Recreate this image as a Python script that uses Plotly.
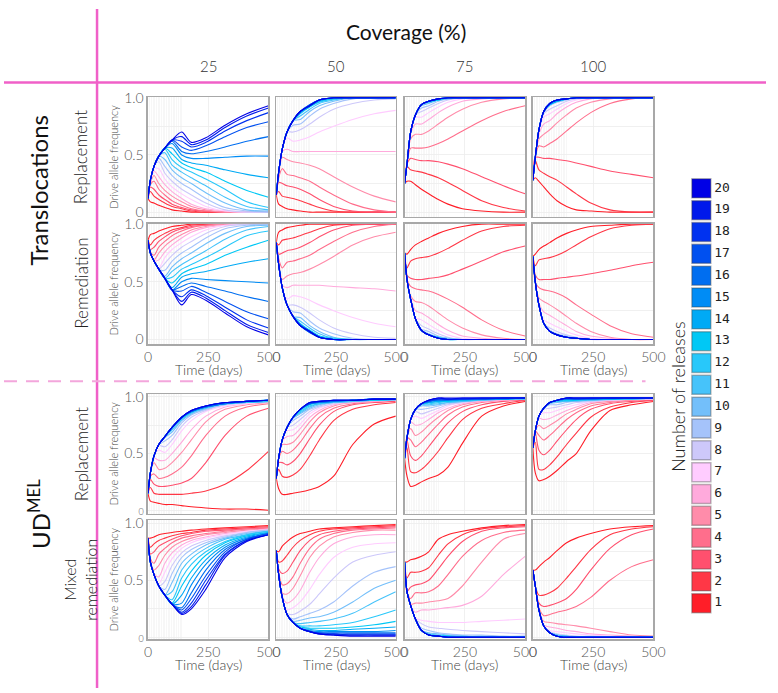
import plotly.graph_objects as go

# ---------------- data ----------------
DAYS = [0, 10, 25, 45, 70, 100, 140, 180, 240, 320, 410, 500]
RELEASE_DAYS = [0, 7, 14, 21, 28, 35, 42, 49, 56, 63, 70, 77, 84, 91, 98, 105, 112, 119, 126, 133, 140]
RELEASES = [str(n) for n in range(1, 21)]
COVERAGE = ["25", "50", "75", "100"]
X_TICKS = [0, 250, 500]

COLORS = [
    "#ff1e28", "#ff3746", "#ff506e", "#ff6e8c", "#ff8caa", "#ffaadc", "#ffccff",
    "#cdc8fa", "#a5c3fa", "#73bffa", "#46c3fa", "#28c8fa", "#00c8f5", "#00aaf5",
    "#008cf5", "#006ef0", "#0050f0", "#0032f0", "#0019eb", "#0000e6",
]

# values in % of drive allele frequency, one row per number of releases (1..20)
TR_REP_25 = [
    [12, 9, 8, 6, 4, 2, 1, 0, 0, 0, 0, 0],
    [12, 18, 14, 11, 8, 5, 3, 1, 0, 0, 0, 0],
    [12, 22, 20, 15, 11, 7, 4, 2, 1, 0, 0, 0],
    [12, 24, 27, 20, 15, 10, 6, 3, 1, 0, 0, 0],
    [12, 25, 32, 25, 19, 14, 9, 5, 2, 0, 0, 0],
    [12, 26, 36, 31, 24, 18, 12, 7, 3, 1, 0, 0],
    [12, 27, 38, 38, 29, 22, 16, 11, 5, 1, 0, 0],
    [12, 28, 40, 44, 34, 27, 20, 15, 8, 2, 0, 0],
    [12, 28, 40, 47, 40, 32, 25, 20, 12, 4, 1, 0],
    [12, 28, 40, 49, 46, 37, 30, 25, 17, 8, 2, 1],
    [12, 28, 40, 49, 52, 41, 35, 30, 23, 13, 5, 2],
    [12, 28, 40, 49, 55, 46, 39, 35, 29, 20, 9, 4],
    [12, 28, 40, 49, 56, 51, 43, 39, 35, 27, 19, 13],
    [12, 28, 40, 49, 56, 56, 46, 43, 41, 37, 33, 30],
    [12, 28, 40, 49, 56, 60, 50, 47, 47, 48, 49, 49],
    [12, 28, 40, 49, 56, 62, 53, 51, 53, 57, 62, 66],
    [12, 28, 40, 49, 56, 63, 57, 54, 58, 66, 74, 79],
    [12, 28, 40, 49, 56, 63, 62, 57, 61, 71, 80, 87],
    [12, 28, 40, 49, 56, 63, 66, 59, 63, 74, 84, 91],
    [12, 28, 40, 49, 56, 63, 70, 61, 65, 76, 86, 93],
]
TR_REP_50 = [
    [15, 7, 5, 3, 2, 1, 0, 0, 0, 0, 0, 0],
    [15, 18, 14, 13, 12, 10, 7, 4, 1, 0, 0, 0],
    [15, 26, 25, 23, 22, 20, 16, 11, 5, 1, 0, 0],
    [15, 30, 38, 33, 32, 30, 27, 22, 15, 7, 2, 0],
    [15, 32, 48, 46, 44, 43, 41, 38, 31, 22, 14, 9],
    [15, 33, 53, 55, 53, 53, 53, 53, 53, 53, 53, 53],
    [15, 34, 55, 65, 62, 63, 66, 70, 75, 81, 86, 89],
    [15, 35, 55, 70, 70, 72, 77, 83, 90, 95, 98, 99],
    [15, 35, 55, 70, 76, 77, 84, 90, 95, 99, 100, 100],
    [15, 35, 55, 70, 80, 81, 88, 93, 97, 100, 100, 100],
    [15, 35, 55, 70, 80, 84, 90, 95, 98, 100, 100, 100],
    [15, 35, 55, 70, 80, 86, 92, 96, 99, 100, 100, 100],
    [15, 35, 55, 70, 80, 87, 92, 97, 99, 100, 100, 100],
    [15, 35, 55, 70, 80, 87, 93, 97, 100, 100, 100, 100],
    [15, 35, 55, 70, 80, 87, 93, 98, 100, 100, 100, 100],
    [15, 35, 55, 70, 80, 88, 94, 98, 100, 100, 100, 100],
    [15, 35, 55, 70, 80, 88, 94, 98, 100, 100, 100, 100],
    [15, 35, 55, 70, 80, 88, 93, 98, 100, 100, 100, 100],
    [15, 35, 55, 70, 80, 88, 93, 98, 100, 100, 100, 100],
    [15, 35, 55, 70, 80, 88, 93, 98, 100, 100, 100, 100],
]
TR_REP_75 = [
    [25, 27, 27, 24, 20, 16, 11, 7, 3, 1, 0, 0],
    [25, 40, 37, 36, 35, 33, 30, 26, 19, 10, 4, 1],
    [25, 42, 47, 46, 45, 45, 44, 42, 38, 31, 23, 16],
    [25, 42, 56, 56, 56, 57, 60, 64, 71, 80, 88, 93],
    [25, 42, 64, 68, 68, 71, 77, 83, 90, 96, 99, 100],
    [25, 42, 68, 77, 77, 81, 87, 92, 97, 99, 100, 100],
    [25, 42, 70, 83, 83, 87, 92, 96, 99, 100, 100, 100],
    [25, 42, 70, 85, 88, 91, 95, 98, 100, 100, 100, 100],
    [25, 42, 70, 85, 91, 93, 97, 99, 100, 100, 100, 100],
    [25, 42, 70, 85, 93, 95, 98, 99, 100, 100, 100, 100],
    [25, 42, 70, 85, 94, 96, 98, 100, 100, 100, 100, 100],
    [25, 42, 70, 85, 94, 96, 98, 100, 100, 100, 100, 100],
    [25, 42, 70, 85, 94, 97, 98, 100, 100, 100, 100, 100],
    [25, 42, 70, 85, 94, 97, 99, 100, 100, 100, 100, 100],
    [25, 42, 70, 85, 94, 97, 99, 100, 100, 100, 100, 100],
    [25, 42, 70, 85, 94, 97, 99, 100, 100, 100, 100, 100],
    [25, 42, 70, 85, 94, 97, 99, 100, 100, 100, 100, 100],
    [25, 42, 70, 85, 94, 97, 99, 100, 100, 100, 100, 100],
    [25, 42, 70, 85, 94, 97, 99, 100, 100, 100, 100, 100],
    [25, 42, 70, 85, 94, 97, 99, 100, 100, 100, 100, 100],
]
TR_REP_100 = [
    [28, 30, 27, 22, 16, 10, 5, 2, 1, 0, 0, 0],
    [28, 45, 37, 34, 31, 28, 22, 16, 8, 2, 0, 0],
    [28, 48, 48, 47, 47, 46, 45, 43, 40, 36, 33, 30],
    [28, 48, 58, 57, 60, 64, 71, 78, 87, 95, 99, 100],
    [28, 48, 64, 68, 72, 78, 85, 91, 96, 99, 100, 100],
    [28, 48, 68, 77, 80, 86, 92, 96, 99, 100, 100, 100],
    [28, 48, 70, 83, 86, 90, 95, 98, 100, 100, 100, 100],
    [28, 48, 72, 86, 90, 93, 97, 99, 100, 100, 100, 100],
    [28, 48, 72, 87, 93, 96, 98, 100, 100, 100, 100, 100],
    [28, 48, 72, 88, 94, 97, 99, 100, 100, 100, 100, 100],
    [28, 48, 72, 88, 94, 97, 99, 100, 100, 100, 100, 100],
    [28, 48, 72, 88, 94, 97, 99, 100, 100, 100, 100, 100],
    [28, 48, 72, 88, 94, 97, 99, 100, 100, 100, 100, 100],
    [28, 48, 72, 88, 94, 97, 99, 100, 100, 100, 100, 100],
    [28, 48, 72, 88, 95, 98, 99, 100, 100, 100, 100, 100],
    [28, 48, 72, 88, 95, 98, 99, 100, 100, 100, 100, 100],
    [28, 48, 72, 88, 95, 98, 99, 100, 100, 100, 100, 100],
    [28, 48, 72, 88, 95, 98, 99, 100, 100, 100, 100, 100],
    [28, 48, 72, 88, 95, 98, 99, 100, 100, 100, 100, 100],
    [28, 48, 72, 88, 95, 98, 99, 100, 100, 100, 100, 100],
]
TR_REM_25 = [
    [86, 91, 92, 94, 96, 98, 99, 100, 100, 100, 100, 100],
    [86, 82, 86, 89, 92, 95, 97, 99, 100, 100, 100, 100],
    [86, 78, 80, 85, 89, 93, 96, 98, 99, 100, 100, 100],
    [86, 76, 73, 80, 85, 90, 94, 97, 99, 100, 100, 100],
    [86, 75, 69, 75, 81, 86, 91, 95, 98, 100, 100, 100],
    [86, 75, 68, 69, 76, 82, 88, 93, 97, 99, 100, 100],
    [86, 75, 68, 62, 71, 78, 84, 89, 95, 99, 100, 100],
    [86, 75, 68, 61, 66, 73, 80, 85, 92, 98, 100, 100],
    [86, 75, 68, 61, 60, 68, 75, 80, 88, 96, 99, 100],
    [86, 75, 68, 61, 55, 63, 70, 75, 83, 92, 98, 99],
    [86, 75, 68, 61, 53, 59, 65, 70, 77, 87, 95, 98],
    [86, 75, 68, 61, 53, 54, 61, 65, 71, 80, 90, 94],
    [86, 75, 68, 61, 53, 49, 57, 61, 65, 73, 80, 86],
    [86, 75, 68, 61, 53, 45, 54, 57, 59, 63, 67, 70],
    [86, 75, 68, 61, 53, 43, 50, 53, 52, 51, 50, 49],
    [86, 75, 68, 61, 53, 43, 46, 49, 46, 42, 37, 33],
    [86, 75, 68, 61, 53, 43, 42, 46, 41, 33, 24, 18],
    [86, 75, 68, 61, 53, 43, 37, 43, 38, 28, 17, 10],
    [86, 75, 68, 61, 53, 43, 33, 41, 36, 25, 13, 6],
    [86, 75, 68, 61, 53, 43, 30, 39, 34, 23, 11, 4],
]
TR_REM_50 = [
    [84, 93, 95, 97, 98, 99, 100, 100, 100, 100, 100, 100],
    [84, 82, 86, 87, 88, 90, 93, 96, 99, 100, 100, 100],
    [84, 74, 75, 77, 78, 80, 84, 89, 95, 99, 100, 100],
    [84, 70, 62, 67, 68, 70, 73, 78, 85, 93, 98, 100],
    [84, 68, 52, 55, 57, 58, 61, 65, 72, 82, 89, 93],
    [84, 67, 47, 45, 47, 47, 47, 47, 46, 45, 44, 42],
    [84, 66, 45, 35, 38, 37, 34, 30, 25, 19, 14, 11],
    [84, 65, 45, 30, 30, 28, 23, 17, 10, 5, 2, 1],
    [84, 65, 45, 30, 24, 23, 16, 10, 5, 1, 0, 0],
    [84, 65, 45, 30, 20, 19, 12, 7, 2, 0, 0, 0],
    [84, 65, 45, 30, 20, 16, 10, 5, 1, 0, 0, 0],
    [84, 65, 45, 30, 20, 14, 8, 3, 1, 0, 0, 0],
    [84, 65, 45, 30, 20, 13, 8, 3, 0, 0, 0, 0],
    [84, 65, 45, 30, 20, 13, 7, 2, 0, 0, 0, 0],
    [84, 65, 45, 30, 20, 13, 7, 2, 0, 0, 0, 0],
    [84, 65, 45, 30, 20, 12, 6, 2, 0, 0, 0, 0],
    [84, 65, 45, 30, 20, 12, 6, 2, 0, 0, 0, 0],
    [84, 65, 45, 30, 20, 12, 7, 2, 0, 0, 0, 0],
    [84, 65, 45, 30, 20, 12, 7, 2, 0, 0, 0, 0],
    [84, 65, 45, 30, 20, 12, 7, 2, 0, 0, 0, 0],
]
TR_REM_75 = [
    [75, 74, 78, 82, 85, 88, 92, 95, 98, 100, 100, 100],
    [75, 62, 68, 70, 71, 72, 75, 79, 86, 94, 98, 99],
    [75, 56, 53, 52, 52, 53, 54, 56, 61, 68, 76, 81],
    [75, 52, 46, 44, 43, 42, 39, 35, 28, 17, 8, 3],
    [75, 52, 38, 33, 32, 29, 23, 17, 10, 4, 1, 0],
    [75, 52, 36, 25, 23, 19, 13, 8, 3, 1, 0, 0],
    [75, 52, 35, 19, 17, 13, 8, 4, 1, 0, 0, 0],
    [75, 52, 35, 18, 12, 9, 5, 2, 0, 0, 0, 0],
    [75, 52, 35, 18, 9, 7, 3, 1, 0, 0, 0, 0],
    [75, 52, 35, 18, 8, 5, 2, 1, 0, 0, 0, 0],
    [75, 52, 35, 18, 8, 4, 2, 0, 0, 0, 0, 0],
    [75, 52, 35, 18, 8, 4, 2, 0, 0, 0, 0, 0],
    [75, 52, 35, 18, 8, 4, 1, 0, 0, 0, 0, 0],
    [75, 52, 35, 18, 8, 4, 1, 0, 0, 0, 0, 0],
    [75, 52, 35, 18, 8, 4, 1, 0, 0, 0, 0, 0],
    [75, 52, 35, 18, 8, 4, 1, 0, 0, 0, 0, 0],
    [75, 52, 35, 18, 8, 4, 1, 0, 0, 0, 0, 0],
    [75, 52, 35, 18, 8, 4, 1, 0, 0, 0, 0, 0],
    [75, 52, 35, 18, 8, 4, 1, 0, 0, 0, 0, 0],
    [75, 52, 35, 18, 8, 4, 1, 0, 0, 0, 0, 0],
]
TR_REM_100 = [
    [72, 74, 78, 81, 84, 88, 92, 95, 98, 99, 100, 100],
    [72, 64, 69, 70, 71, 73, 77, 82, 89, 96, 99, 100],
    [72, 56, 52, 52, 52, 53, 54, 55, 57, 60, 64, 67],
    [72, 50, 45, 43, 42, 40, 36, 30, 22, 12, 5, 2],
    [72, 50, 36, 33, 30, 26, 20, 14, 7, 2, 0, 0],
    [72, 50, 32, 24, 21, 17, 12, 7, 3, 1, 0, 0],
    [72, 50, 30, 17, 14, 11, 7, 4, 1, 0, 0, 0],
    [72, 50, 30, 14, 10, 7, 4, 2, 0, 0, 0, 0],
    [72, 50, 30, 14, 8, 5, 3, 1, 0, 0, 0, 0],
    [72, 50, 30, 14, 7, 4, 2, 1, 0, 0, 0, 0],
    [72, 50, 30, 14, 7, 4, 2, 1, 0, 0, 0, 0],
    [72, 50, 30, 14, 7, 4, 2, 1, 0, 0, 0, 0],
    [72, 50, 30, 14, 7, 4, 2, 1, 0, 0, 0, 0],
    [72, 50, 30, 14, 7, 4, 2, 1, 0, 0, 0, 0],
    [72, 50, 30, 14, 7, 4, 2, 1, 0, 0, 0, 0],
    [72, 50, 30, 14, 7, 4, 2, 1, 0, 0, 0, 0],
    [72, 50, 30, 14, 7, 4, 2, 1, 0, 0, 0, 0],
    [72, 50, 30, 14, 7, 4, 2, 1, 0, 0, 0, 0],
    [72, 50, 30, 14, 7, 4, 2, 1, 0, 0, 0, 0],
    [72, 50, 30, 14, 7, 4, 2, 1, 0, 0, 0, 0],
]
UD_REP_25 = [
    [15, 8, 7, 6, 5, 5, 4, 3, 2, 1, 1, 0],
    [15, 20, 15, 14, 14, 14, 14, 15, 17, 23, 35, 52],
    [15, 27, 23, 21, 21, 22, 24, 28, 42, 66, 83, 90],
    [15, 30, 32, 28, 29, 32, 38, 48, 66, 83, 91, 94],
    [15, 33, 42, 36, 37, 42, 51, 62, 78, 89, 93, 95],
    [15, 33, 46, 44, 44, 50, 60, 71, 83, 91, 94, 95],
    [15, 33, 48, 53, 51, 58, 70, 79, 87, 92, 94, 96],
    [15, 33, 48, 57, 56, 62, 74, 82, 88, 93, 95, 96],
    [15, 33, 48, 58, 61, 66, 77, 84, 89, 93, 95, 96],
    [15, 33, 48, 58, 64, 69, 79, 85, 90, 94, 95, 96],
    [15, 33, 48, 58, 65, 71, 80, 86, 90, 94, 95, 96],
    [15, 33, 48, 58, 65, 72, 81, 86, 91, 94, 95, 96],
    [15, 33, 48, 58, 65, 73, 81, 87, 91, 94, 96, 97],
    [15, 33, 48, 58, 65, 73, 82, 87, 91, 94, 96, 97],
    [15, 33, 48, 58, 65, 73, 82, 87, 91, 94, 96, 97],
    [15, 33, 48, 58, 65, 73, 82, 87, 91, 94, 96, 97],
    [15, 33, 48, 58, 65, 73, 82, 87, 92, 95, 96, 97],
    [15, 33, 48, 58, 65, 73, 82, 88, 92, 95, 96, 97],
    [15, 33, 48, 58, 65, 73, 82, 88, 92, 95, 96, 97],
    [15, 33, 48, 58, 65, 73, 82, 88, 92, 95, 96, 97],
]
UD_REP_50 = [
    [28, 19, 14, 14, 15, 16, 18, 21, 30, 58, 76, 83],
    [28, 36, 30, 29, 31, 36, 48, 62, 79, 89, 93, 95],
    [28, 42, 42, 40, 43, 50, 63, 75, 87, 93, 95, 96],
    [28, 45, 52, 50, 53, 60, 72, 82, 90, 94, 96, 97],
    [28, 46, 58, 58, 60, 67, 78, 86, 92, 95, 96, 97],
    [28, 46, 61, 65, 66, 72, 82, 88, 93, 95, 96, 97],
    [28, 46, 62, 70, 71, 76, 85, 90, 94, 96, 97, 97],
    [28, 46, 62, 73, 75, 80, 87, 91, 94, 96, 97, 97],
    [28, 46, 62, 73, 79, 83, 89, 92, 95, 96, 97, 97],
    [28, 46, 62, 73, 81, 85, 90, 93, 95, 96, 97, 97],
    [28, 46, 62, 73, 82, 86, 91, 94, 95, 96, 97, 98],
    [28, 46, 62, 73, 82, 87, 92, 94, 96, 97, 97, 98],
    [28, 46, 62, 73, 82, 88, 93, 95, 96, 97, 97, 98],
    [28, 46, 62, 73, 82, 89, 94, 95, 96, 97, 98, 98],
    [28, 46, 62, 73, 82, 89, 94, 95, 96, 97, 98, 98],
    [28, 46, 62, 73, 82, 89, 94, 95, 96, 97, 98, 98],
    [28, 46, 62, 73, 82, 89, 94, 96, 97, 97, 98, 98],
    [28, 46, 62, 73, 82, 89, 95, 96, 97, 97, 98, 98],
    [28, 46, 62, 73, 82, 89, 95, 96, 97, 97, 98, 98],
    [28, 46, 62, 73, 82, 89, 95, 96, 97, 97, 98, 98],
]
UD_REP_75 = [
    [46, 30, 21, 22, 25, 28, 31, 38, 59, 83, 92, 96],
    [46, 55, 34, 33, 36, 42, 52, 64, 80, 90, 94, 97],
    [46, 62, 48, 44, 48, 56, 67, 77, 87, 93, 96, 97],
    [46, 64, 62, 56, 60, 67, 76, 84, 91, 95, 97, 98],
    [46, 64, 72, 66, 69, 75, 82, 88, 93, 96, 97, 98],
    [46, 64, 78, 75, 76, 80, 86, 90, 94, 96, 97, 98],
    [46, 64, 80, 83, 81, 84, 88, 92, 95, 97, 98, 98],
    [46, 64, 80, 87, 85, 87, 90, 93, 95, 97, 98, 98],
    [46, 64, 80, 89, 89, 90, 92, 94, 96, 97, 98, 98],
    [46, 64, 80, 89, 92, 92, 93, 95, 96, 97, 98, 98],
    [46, 64, 80, 89, 93, 93, 94, 95, 96, 97, 98, 98],
    [46, 64, 80, 89, 94, 94, 95, 96, 97, 98, 98, 99],
    [46, 64, 80, 89, 94, 95, 96, 96, 97, 98, 98, 99],
    [46, 64, 80, 89, 94, 95, 96, 97, 97, 98, 98, 99],
    [46, 64, 80, 89, 94, 96, 97, 97, 98, 98, 98, 99],
    [46, 64, 80, 89, 94, 96, 97, 97, 98, 98, 99, 99],
    [46, 64, 80, 89, 94, 96, 98, 98, 98, 98, 99, 99],
    [46, 64, 80, 89, 94, 97, 98, 98, 98, 99, 99, 99],
    [46, 64, 80, 89, 94, 97, 99, 98, 99, 99, 99, 99],
    [46, 64, 80, 89, 94, 97, 99, 99, 99, 99, 99, 99],
]
UD_REP_100 = [
    [55, 33, 26, 27, 30, 35, 43, 50, 70, 88, 93, 96],
    [55, 60, 36, 36, 40, 47, 58, 68, 82, 91, 95, 97],
    [55, 68, 53, 49, 53, 61, 71, 80, 89, 94, 96, 97],
    [55, 70, 66, 62, 66, 72, 80, 86, 92, 95, 97, 98],
    [55, 70, 75, 72, 75, 79, 85, 89, 94, 96, 97, 98],
    [55, 70, 81, 80, 81, 84, 88, 91, 95, 97, 98, 98],
    [55, 70, 83, 86, 86, 88, 91, 93, 96, 97, 98, 98],
    [55, 70, 83, 89, 90, 91, 93, 95, 96, 97, 98, 98],
    [55, 70, 83, 90, 93, 93, 95, 96, 97, 98, 98, 99],
    [55, 70, 83, 90, 94, 95, 96, 96, 97, 98, 98, 99],
    [55, 70, 83, 90, 95, 96, 96, 97, 97, 98, 98, 99],
    [55, 70, 83, 90, 95, 96, 97, 97, 98, 98, 98, 99],
    [55, 70, 83, 90, 95, 97, 97, 97, 98, 98, 99, 99],
    [55, 70, 83, 90, 95, 97, 98, 98, 98, 98, 99, 99],
    [55, 70, 83, 90, 95, 97, 98, 98, 98, 99, 99, 99],
    [55, 70, 83, 90, 95, 97, 98, 98, 98, 99, 99, 99],
    [55, 70, 83, 90, 95, 97, 99, 98, 99, 99, 99, 99],
    [55, 70, 83, 90, 95, 97, 99, 99, 99, 99, 99, 99],
    [55, 70, 83, 90, 95, 97, 99, 99, 99, 99, 99, 99],
    [55, 70, 83, 90, 95, 97, 99, 99, 99, 99, 99, 99],
]
UD_MIX_25 = [
    [87, 87, 88, 90, 91, 92, 93, 94, 95, 96, 97, 98],
    [87, 79, 82, 85, 87, 89, 91, 92, 94, 95, 96, 97],
    [87, 73, 75, 80, 83, 86, 89, 91, 93, 94, 95, 96],
    [87, 69, 65, 73, 78, 83, 87, 89, 91, 93, 95, 96],
    [87, 67, 59, 63, 72, 79, 84, 87, 90, 92, 94, 95],
    [87, 66, 56, 53, 65, 74, 81, 85, 88, 91, 93, 95],
    [87, 66, 55, 47, 57, 69, 78, 83, 87, 90, 93, 94],
    [87, 66, 55, 45, 49, 63, 74, 80, 85, 89, 92, 94],
    [87, 66, 55, 45, 42, 56, 70, 77, 83, 88, 92, 94],
    [87, 66, 55, 45, 37, 48, 65, 73, 81, 87, 91, 93],
    [87, 66, 55, 45, 37, 40, 59, 69, 78, 86, 90, 93],
    [87, 66, 55, 45, 37, 33, 52, 64, 75, 84, 90, 93],
    [87, 66, 55, 45, 37, 30, 45, 58, 72, 83, 89, 92],
    [87, 66, 55, 45, 37, 29, 37, 52, 68, 81, 88, 92],
    [87, 66, 55, 45, 37, 29, 30, 46, 64, 79, 87, 91],
    [87, 66, 55, 45, 37, 29, 26, 39, 59, 77, 86, 91],
    [87, 66, 55, 45, 37, 29, 24, 34, 54, 75, 86, 91],
    [87, 66, 55, 45, 37, 29, 22, 30, 50, 73, 85, 90],
    [87, 66, 55, 45, 37, 29, 21, 27, 46, 72, 85, 90],
    [87, 66, 55, 45, 37, 29, 20, 25, 42, 70, 84, 90],
]
UD_MIX_50 = [
    [76, 75, 80, 84, 88, 91, 93, 95, 96, 97, 98, 99],
    [76, 66, 67, 72, 79, 85, 90, 93, 95, 96, 97, 98],
    [76, 60, 56, 58, 66, 76, 85, 90, 93, 95, 96, 97],
    [76, 57, 46, 47, 53, 65, 78, 86, 91, 94, 95, 96],
    [76, 56, 39, 38, 43, 54, 70, 80, 88, 92, 94, 94],
    [76, 55, 36, 30, 33, 41, 57, 70, 82, 88, 90, 90],
    [76, 55, 35, 24, 26, 31, 42, 55, 70, 79, 82, 83],
    [76, 55, 35, 21, 20, 23, 29, 38, 52, 66, 72, 75],
    [76, 55, 35, 20, 16, 18, 21, 24, 31, 45, 57, 62],
    [76, 55, 35, 20, 14, 15, 17, 18, 22, 31, 43, 50],
    [76, 55, 35, 20, 13, 12, 13, 14, 16, 21, 31, 40],
    [76, 55, 35, 20, 13, 10, 10, 10, 11, 13, 18, 24],
    [76, 55, 35, 20, 13, 9, 8, 8, 8, 9, 11, 14],
    [76, 55, 35, 20, 13, 8, 7, 6, 6, 7, 8, 9],
    [76, 55, 35, 20, 13, 8, 6, 5, 5, 5, 5, 6],
    [76, 55, 35, 20, 13, 8, 5, 4, 4, 4, 4, 4],
    [76, 55, 35, 20, 13, 8, 5, 4, 3, 3, 3, 3],
    [76, 55, 35, 20, 13, 8, 5, 3, 3, 2, 2, 2],
    [76, 55, 35, 20, 13, 8, 5, 3, 2, 2, 2, 2],
    [76, 55, 35, 20, 13, 8, 5, 3, 2, 1, 1, 1],
]
UD_MIX_75 = [
    [66, 66, 68, 69, 71, 75, 86, 90, 93, 96, 98, 99],
    [66, 52, 57, 57, 58, 61, 72, 82, 90, 95, 97, 98],
    [66, 40, 44, 46, 47, 50, 60, 71, 84, 93, 96, 97],
    [66, 40, 34, 39, 39, 40, 45, 55, 71, 85, 92, 94],
    [66, 40, 29, 30, 30, 31, 32, 34, 45, 66, 86, 91],
    [66, 40, 28, 22, 24, 24, 25, 26, 28, 36, 55, 71],
    [66, 40, 28, 17, 15, 14, 13, 13, 13, 14, 15, 16],
    [66, 40, 28, 16, 12, 9, 8, 7, 6, 5, 4, 3],
    [66, 40, 28, 16, 8, 6, 4, 3, 2, 2, 1, 1],
    [66, 40, 28, 16, 6, 4, 3, 2, 1, 1, 0, 0],
    [66, 40, 28, 16, 6, 3, 2, 1, 1, 0, 0, 0],
    [66, 40, 28, 16, 6, 2, 1, 1, 0, 0, 0, 0],
    [66, 40, 28, 16, 6, 2, 1, 1, 0, 0, 0, 0],
    [66, 40, 28, 16, 6, 2, 1, 0, 0, 0, 0, 0],
    [66, 40, 28, 16, 6, 2, 1, 0, 0, 0, 0, 0],
    [66, 40, 28, 16, 6, 2, 1, 0, 0, 0, 0, 0],
    [66, 40, 28, 16, 6, 2, 1, 0, 0, 0, 0, 0],
    [66, 40, 28, 16, 6, 2, 1, 0, 0, 0, 0, 0],
    [66, 40, 28, 16, 6, 2, 1, 0, 0, 0, 0, 0],
    [66, 40, 28, 16, 6, 2, 1, 0, 0, 0, 0, 0],
]
UD_MIX_100 = [
    [59, 59, 62, 66, 70, 76, 83, 87, 91, 95, 97, 98],
    [59, 45, 37, 37, 39, 43, 52, 62, 77, 90, 95, 97],
    [59, 45, 30, 27, 28, 30, 34, 42, 59, 78, 90, 95],
    [59, 45, 26, 19, 20, 22, 24, 27, 35, 50, 62, 68],
    [59, 45, 24, 14, 13, 12, 11, 10, 8, 5, 2, 1],
    [59, 45, 24, 11, 9, 8, 6, 5, 3, 2, 1, 0],
    [59, 45, 24, 10, 6, 5, 4, 3, 2, 1, 0, 0],
    [59, 45, 24, 10, 5, 3, 2, 1, 1, 0, 0, 0],
    [59, 45, 24, 10, 4, 2, 1, 0, 0, 0, 0, 0],
    [59, 45, 24, 10, 4, 2, 1, 0, 0, 0, 0, 0],
    [59, 45, 24, 10, 4, 2, 1, 0, 0, 0, 0, 0],
    [59, 45, 24, 10, 4, 1, 0, 0, 0, 0, 0, 0],
    [59, 45, 24, 10, 4, 1, 0, 0, 0, 0, 0, 0],
    [59, 45, 24, 10, 4, 1, 0, 0, 0, 0, 0, 0],
    [59, 45, 24, 10, 4, 1, 0, 0, 0, 0, 0, 0],
    [59, 45, 24, 10, 4, 1, 0, 0, 0, 0, 0, 0],
    [59, 45, 24, 10, 4, 1, 0, 0, 0, 0, 0, 0],
    [59, 45, 24, 10, 4, 1, 0, 0, 0, 0, 0, 0],
    [59, 45, 24, 10, 4, 1, 0, 0, 0, 0, 0, 0],
    [59, 45, 24, 10, 4, 1, 0, 0, 0, 0, 0, 0],
]

PANELS = [
    [TR_REP_25, TR_REP_50, TR_REP_75, TR_REP_100],
    [TR_REM_25, TR_REM_50, TR_REM_75, TR_REM_100],
    [UD_REP_25, UD_REP_50, UD_REP_75, UD_REP_100],
    [UD_MIX_25, UD_MIX_50, UD_MIX_75, UD_MIX_100],
]

# ---------------- layout helpers ----------------
W, H = 778, 693
def fx(p):
    return p / W
def fy(p):
    return 1 - p / H

COLS_PX = [(147, 270), (278, 400), (409, 532), (540, 663)]
ROWS_PX = [(90, 212), (219, 342), (393, 515), (522, 643)]
Y_RANGES = [[-0.04, 1.005], [-0.04, 1.005], [-0.03, 1.025], [-0.015, 1.025]]

FONT = "Lato"
PINK = "#f060c8"

fig = go.Figure()
layout = {}

for r in range(4):
    for c in range(4):
        k = r * 4 + c + 1
        xa = "x" if k == 1 else f"x{k}"
        ya = "y" if k == 1 else f"y{k}"
        for i, vals in enumerate(PANELS[r][c]):
            fig.add_trace(go.Scatter(
                x=DAYS, y=[v / 100 for v in vals], mode="lines",
                line=dict(color=COLORS[i], width=1.1, shape="spline", smoothing=0.8),
                xaxis=xa, yaxis=ya, showlegend=False, hoverinfo="skip",
            ))
        x0, x1 = COLS_PX[c]
        y0, y1 = ROWS_PX[r]
        bottom = r in (1, 3)
        layout["xaxis" if k == 1 else f"xaxis{k}"] = dict(
            domain=[fx(x0), fx(x1)], anchor=ya, range=[0, 500],
            tickvals=X_TICKS, ticktext=[str(v) for v in X_TICKS],
            showticklabels=bottom, ticks="",
            tickfont=dict(family=FONT, size=14, color="#555", weight=300),
            showline=True, mirror=True, linecolor="#a8a8a8", linewidth=1.5,
            showgrid=True, gridcolor="#ececec", gridwidth=0.8, zeroline=False,
            minor=dict(tickmode="array", tickvals=RELEASE_DAYS, showgrid=True,
                       gridcolor="#f2f2f2", gridwidth=0.6),
            fixedrange=True,
        )
        if r < 2:
            ytext = ["0", "", "0.5", "", "1.0"]
        else:
            ytext = ["<span style='font-size:9px'>0</span>", "", "0.5", "", "1.0"]
        layout["yaxis" if k == 1 else f"yaxis{k}"] = dict(
            domain=[fy(y1), fy(y0)], anchor=xa, range=Y_RANGES[r],
            tickvals=[0, 0.25, 0.5, 0.75, 1.0], ticktext=ytext,
            showticklabels=(c == 0), ticks="",
            tickfont=dict(family=FONT, size=14, color="#555", weight=300),
            showline=True, mirror=True, linecolor="#a8a8a8", linewidth=1.5,
            showgrid=True, gridcolor="#ececec", gridwidth=0.8, zeroline=False,
            fixedrange=True,
        )

# legend as a discrete colour key drawn through its own axis
fig.add_trace(go.Scatter(
    x=[0.5] * 20, y=list(range(1, 21)), mode="markers+text",
    marker=dict(symbol="square", size=19, color=COLORS,
                line=dict(color="rgba(60,60,60,0.35)", width=1.5)),
    text=RELEASES, textposition="middle right",
    textfont=dict(family="DejaVu Sans Mono", size=13, color="#222"),
    xaxis="x17", yaxis="y17", showlegend=False, hoverinfo="skip", cliponaxis=False,
))
layout["xaxis17"] = dict(domain=[fx(702), fx(722)], range=[0, 1], visible=False, anchor="y17", fixedrange=True)
layout["yaxis17"] = dict(domain=[fy(617.6), fy(171.9)], range=[0.5, 20.5], visible=False, anchor="x17", fixedrange=True)

annotations = []
def ann(text, x, y, size, color="#111", angle=0, weight=400, family=FONT):
    annotations.append(dict(text=text, x=fx(x), y=fy(y), xref="paper", yref="paper",
                            showarrow=False, textangle=angle, xanchor="center", yanchor="middle",
                            font=dict(family=family, size=size, color=color, weight=weight)))

ann("Coverage (%)", 410, 23, 21)
for c, lab in enumerate(COVERAGE):
    ann(lab, (COLS_PX[c][0] + COLS_PX[c][1]) / 2, 58, 15, "#333", weight=300)
ann("Translocations", 35, 185, 24, angle=-90)
ann("UD<sup>MEL</sup>", 35, 515, 24, angle=-90)
ann("Replacement", 79, 151, 17, "#222", angle=-90, weight=300)
ann("Remediation", 79, 280, 17, "#222", angle=-90, weight=300)
ann("Replacement", 79, 454, 17, "#222", angle=-90, weight=300)
ann("Mixed<br>remediation", 78, 582, 16, "#222", angle=-90, weight=300)
for r in range(4):
    ann("Drive allele frequency", 112, (ROWS_PX[r][0] + ROWS_PX[r][1]) / 2, 11, "#444", angle=-90, weight=300)
for r in (1, 3):
    for c in range(4):
        ann("Time (days)", (COLS_PX[c][0] + COLS_PX[c][1]) / 2, ROWS_PX[r][1] + 26, 14, "#444", weight=300)
ann("Number of releases", 688, 395, 18, "#222", angle=-90, weight=300)

shapes = [
    dict(type="line", xref="paper", yref="paper", x0=fx(95), x1=fx(95), y0=0, y1=1,
         line=dict(color=PINK, width=2.5)),
    dict(type="line", xref="paper", yref="paper", x0=0, x1=1, y0=fy(75), y1=fy(75),
         line=dict(color=PINK, width=2.5)),
    dict(type="line", xref="paper", yref="paper", x0=0, x1=fx(655), y0=fy(380), y1=fy(380),
         line=dict(color="#f3a6dc", width=2, dash="13px,9px")),
]

fig.update_layout(
    width=W, height=H, margin=dict(l=0, r=0, t=0, b=0),
    paper_bgcolor="white", plot_bgcolor="white",
    annotations=annotations, shapes=shapes, **layout,
)

fig.write_html(
    "out.html",
    config={"displayModeBar": False, "staticPlot": True},
    post_script="document.body.style.margin='0px';document.documentElement.style.overflow='hidden';",
)
